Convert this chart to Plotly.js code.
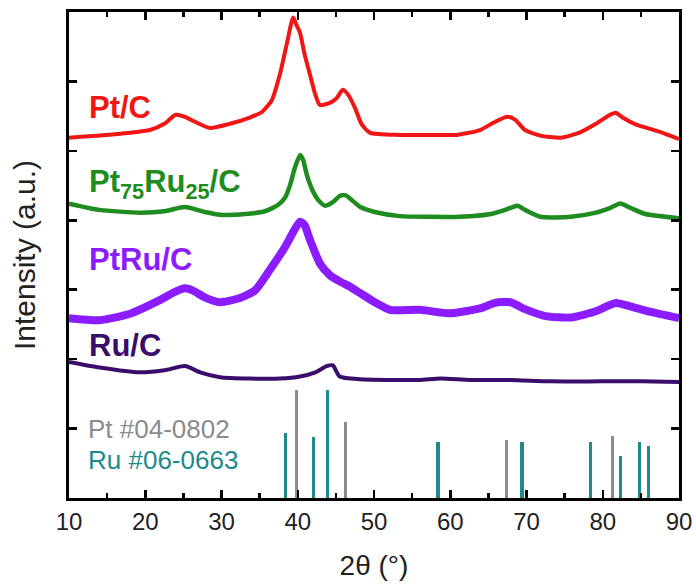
<!DOCTYPE html>
<html>
<head>
<meta charset="utf-8">
<script src="https://cdn.plot.ly/plotly-3.0.1.min.js"></script>
<style>html,body{margin:0;padding:0;background:#fff;}#chart{width:696px;height:588px;}</style>
</head>
<body>
<div id="chart"></div>
<script>
// ---- data (already vertically offset) ----
const ptcX = [10,14.0,18.0,20.6,22.5,24.0,25.2,26.5,28.5,31.1,33.7,35.3,36.6,37.7,38.6,39.4,39.8,40.3,40.9,41.6,42.3,42.9,44.2,45.1,45.9,46.6,47.5,48.4,49.5,53.4,57.4,60.9,63.9,65.9,67.5,68.5,69.8,71.8,74.5,77.1,79.1,80.8,81.7,82.6,84.3,87.0,90.0];
const ptcY = [5.19,5.22,5.26,5.30,5.39,5.52,5.49,5.42,5.33,5.39,5.48,5.56,5.73,6.12,6.56,6.92,6.82,6.70,6.39,6.10,5.81,5.66,5.69,5.76,5.88,5.81,5.62,5.38,5.26,5.23,5.23,5.23,5.30,5.42,5.49,5.45,5.30,5.22,5.19,5.27,5.39,5.51,5.55,5.48,5.38,5.29,5.17];

const pt75X = [10,14.0,19.3,22.5,25.2,27.8,29.8,33.1,35.7,37.4,38.3,39.0,39.6,40.3,40.7,41.2,41.9,42.7,43.6,44.6,45.5,46.3,47.1,48.2,50.1,53.4,57.4,61.3,65.3,67.2,68.8,69.8,71.8,75.8,79.1,81.0,82.3,83.6,85.6,90.0];
const pt75Y = [4.24,4.15,4.11,4.13,4.19,4.12,4.08,4.09,4.13,4.22,4.32,4.51,4.75,4.94,4.87,4.65,4.44,4.29,4.21,4.26,4.35,4.36,4.29,4.19,4.12,4.06,4.05,4.05,4.09,4.15,4.21,4.15,4.05,4.05,4.11,4.18,4.24,4.18,4.09,4.03];

const ptruX = [10,14.0,17.9,21.9,23.9,25.2,26.2,27.8,29.8,32.4,34.4,36.3,38.3,39.4,40.3,40.9,41.6,42.9,44.2,45.5,46.9,48.2,50.1,52.1,56.0,60.0,63.9,65.9,67.9,69.8,72.5,75.8,79.1,81.7,83.6,86.3,90.0];
const ptruY = [2.59,2.56,2.65,2.85,2.97,3.02,2.99,2.89,2.82,2.88,2.99,3.28,3.61,3.83,3.98,3.93,3.72,3.38,3.21,3.12,3.04,2.95,2.82,2.71,2.71,2.66,2.73,2.81,2.82,2.72,2.62,2.60,2.69,2.81,2.76,2.68,2.59];

const rucX = [10,14.0,19.3,22.5,25.2,27.2,29.8,33.7,37.7,40.3,42.3,43.8,44.6,45.5,48.2,52.1,56.0,58.7,62.6,67.9,73.1,79.7,85.0,90.0];
const rucY = [1.96,1.88,1.81,1.84,1.90,1.81,1.74,1.72,1.72,1.75,1.81,1.90,1.91,1.75,1.71,1.70,1.70,1.72,1.70,1.70,1.68,1.68,1.68,1.67];

// reference patterns
const ptRefX = [39.8,46.3,67.4,81.3];
const ptRefY = [1.55,1.09,0.84,0.89];
const ruRefX = [38.4,42.1,43.9,58.4,69.4,78.4,82.3,84.8,86.0];
const ruRefY = [0.94,0.88,1.55,0.80,0.80,0.80,0.61,0.80,0.75];

const xTickVals = [10,20,30,40,50,60,70,80,90];
const xTickText = ["10","20","30","40","50","60","70","80","90"];

// ---- styles ----
const cRed = "#f01616", cGreen = "#1f8c1f", cPurple = "#8a1cff", cDark = "#3a0c6c", cGray = "#8c8c8c", cTeal = "#1f8a8c";
const FONT = "Arial, 'Liberation Sans', sans-serif";
const SH = {shape: "spline", smoothing: 0.6};

const traces = [
  {x: ptcX, y: ptcY, mode: "lines", line: Object.assign({color: cRed, width: 4}, SH), hoverinfo: "skip"},
  {x: pt75X, y: pt75Y, mode: "lines", line: Object.assign({color: cGreen, width: 4.5}, SH), hoverinfo: "skip"},
  {x: ptruX, y: ptruY, mode: "lines", line: Object.assign({color: cPurple, width: 8}, SH), hoverinfo: "skip"},
  {x: rucX, y: rucY, mode: "lines", line: Object.assign({color: cDark, width: 4}, SH), hoverinfo: "skip"},
  {type: "bar", x: ptRefX, y: ptRefY, width: 0.42, marker: {color: cGray, line: {width: 0}}, hoverinfo: "skip"},
  {type: "bar", x: ruRefX, y: ruRefY, width: 0.42, marker: {color: cTeal, line: {width: 0}}, hoverinfo: "skip"}
];

const ann = (text, x, y, color, size, bold) => ({
  text: bold ? "<b>" + text + "</b>" : text, x: x, y: y, xref: "x", yref: "y",
  xanchor: "left", yanchor: "middle", showarrow: false,
  font: {family: FONT, size: size, color: color}
});

const layout = {
  width: 696, height: 588,
  margin: {l: 69, r: 17, t: 12, b: 90},
  paper_bgcolor: "#fff", plot_bgcolor: "#fff",
  showlegend: false,
  bargap: 0,
  xaxis: {
    range: [10, 90], tickmode: "array", tickvals: xTickVals, ticktext: xTickText,
    ticks: "inside", ticklen: 8, tickwidth: 2.5, tickcolor: "#000",
    minor: {dtick: 5, ticks: "inside", ticklen: 5, tickwidth: 2.5, tickcolor: "#000"},
    showline: true, linewidth: 3, linecolor: "#000", mirror: "allticks",
    showgrid: false, zeroline: false,
    tickfont: {family: FONT, size: 24, color: "#222"},
    title: {text: "2θ (°)", font: {family: FONT, size: 28, color: "#222"}, standoff: 22}
  },
  yaxis: {
    range: [0, 7], dtick: 1, tick0: 0, showticklabels: false,
    ticks: "inside", ticklen: 8, tickwidth: 2.5, tickcolor: "#000",
    showline: true, linewidth: 3, linecolor: "#000", mirror: "allticks",
    showgrid: false, zeroline: false,
    title: {text: "Intensity (a.u.)", font: {family: FONT, size: 30, color: "#222"}, standoff: 22}
  },
  annotations: [
    ann("Pt/C", 12.4, 5.62, cRed, 31, true),
    ann("Pt<sub>75</sub>Ru<sub>25</sub>/C", 12.4, 4.52, cGreen, 31, true),
    ann("PtRu/C", 12.4, 3.43, cPurple, 31, true),
    ann("Ru/C", 12.4, 2.20, cDark, 31, true),
    ann("Pt #04-0802", 12.2, 0.99, cGray, 26, false),
    ann("Ru #06-0663", 12.2, 0.55, cTeal, 26, false)
  ]
};

Plotly.newPlot("chart", traces, layout, {staticPlot: true, displayModeBar: false});
</script>
</body>
</html>
